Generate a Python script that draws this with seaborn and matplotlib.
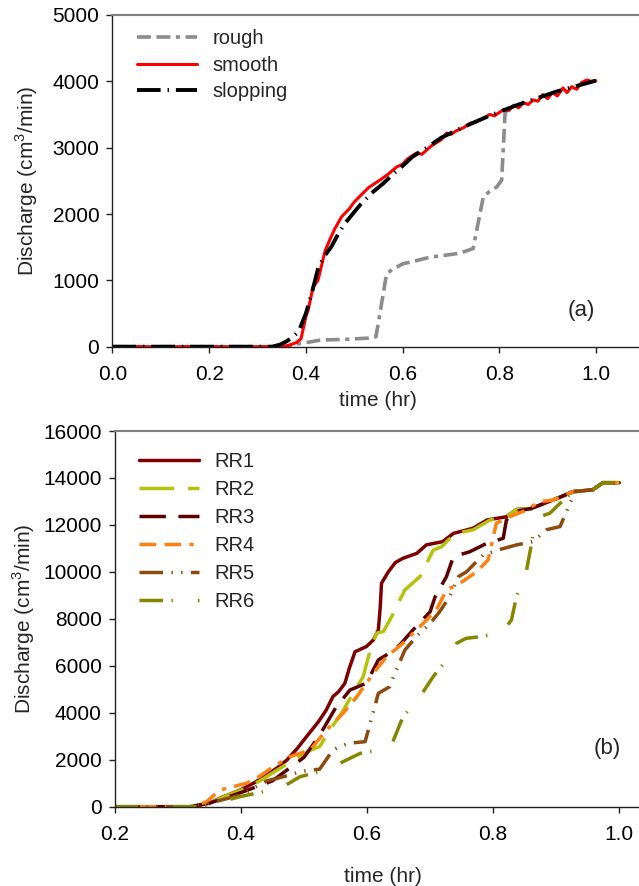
import numpy as np
import pandas as pd
import matplotlib
matplotlib.use("Agg")
import matplotlib.pyplot as plt
import seaborn as sns

# ---------------- Panel (a) data ----------------
rough_t = [0.0, 0.1, 0.2, 0.3, 0.35, 0.37, 0.38, 0.40, 0.43, 0.48, 0.53, 0.545, 0.567, 0.58,
           0.601, 0.63, 0.657, 0.69, 0.719, 0.746, 0.767, 0.78, 0.795, 0.805, 0.812, 0.82]
rough_q = [0, 0, 0, 0, 0, 20, 40, 60, 100, 110, 130, 150, 1100, 1170,
           1250, 1300, 1350, 1380, 1410, 1480, 2260, 2340, 2410, 2510, 3520, 3600]

smooth_t = [0.0, 0.1, 0.2, 0.3, 0.34, 0.36, 0.38, 0.39, 0.40, 0.405, 0.415, 0.425, 0.43, 0.44,
            0.45, 0.46, 0.474, 0.49, 0.50, 0.512, 0.53, 0.553, 0.57, 0.588, 0.60, 0.61, 0.629,
            0.64, 0.66, 0.68, 0.691, 0.70, 0.71, 0.726, 0.74, 0.75, 0.767, 0.78, 0.79, 0.808,
            0.82, 0.83, 0.84, 0.85, 0.86, 0.87, 0.88, 0.89, 0.90, 0.91, 0.92, 0.932, 0.94,
            0.95, 0.96, 0.97, 0.981, 0.99, 1.0]
smooth_q = [0, 0, 0, 0, 0, 10, 60, 120, 450, 560, 900, 1000, 1150, 1450,
            1620, 1780, 1960, 2080, 2180, 2270, 2400, 2510, 2600, 2710, 2750, 2830, 2920,
            2900, 3030, 3120, 3220, 3200, 3250, 3300, 3370, 3380, 3440, 3500, 3480, 3570,
            3560, 3640, 3600, 3680, 3650, 3720, 3700, 3800, 3740, 3830, 3780, 3900, 3830,
            3920, 3880, 3980, 4020, 4000, 4010]

slop_t = [0.0, 0.1, 0.2, 0.3, 0.33, 0.346, 0.36, 0.37, 0.381, 0.388, 0.40, 0.412, 0.426, 0.44,
          0.453, 0.467, 0.481, 0.50, 0.515, 0.54, 0.56, 0.58, 0.598, 0.62, 0.65, 0.68, 0.72,
          0.76, 0.80, 0.84, 0.88, 0.92, 0.96, 1.0]
slop_q = [0, 0, 0, 0, 0, 30, 80, 130, 200, 280, 500, 800, 1200, 1380,
          1510, 1700, 1860, 2030, 2160, 2340, 2460, 2600, 2710, 2860, 3000, 3150, 3290,
          3420, 3540, 3650, 3750, 3850, 3930, 4010]

# ---------------- Panel (b) data ----------------
rr_names = ["RR1", "RR2", "RR3", "RR4", "RR5", "RR6"]

rr1_t = [0.2, 0.32, 0.35, 0.37, 0.399, 0.42, 0.441, 0.46, 0.473, 0.49, 0.504, 0.523, 0.535,
         0.546, 0.555, 0.565, 0.572, 0.581, 0.599, 0.61, 0.618, 0.621, 0.623, 0.634, 0.645,
         0.657, 0.679, 0.694, 0.72, 0.737, 0.768, 0.79, 0.821, 0.837, 0.86, 0.895, 0.927,
         0.958, 0.974, 1.0]
rr1_q = [0, 0, 150, 400, 710, 1000, 1350, 1700, 1990, 2500, 2980, 3620, 4100,
         4690, 4900, 5260, 5900, 6600, 6820, 7100, 7530, 8500, 9515, 10010, 10400,
         10580, 10790, 11150, 11290, 11640, 11860, 12210, 12350, 12660, 12700, 13060, 13420,
         13500, 13800, 13800]

rr2_t = [0.2, 0.32, 0.35, 0.38, 0.40, 0.43, 0.46, 0.49, 0.51, 0.525, 0.541, 0.56, 0.578,
         0.594, 0.605, 0.615, 0.626, 0.639, 0.66, 0.684, 0.705, 0.718, 0.74, 0.768, 0.795,
         0.821, 0.837, 0.86, 0.895, 0.927, 0.958, 0.974, 1.0]
rr2_q = [0, 0, 150, 500, 700, 1100, 1600, 2100, 2400, 2560, 3270, 4000, 4830,
         5540, 6670, 7390, 7460, 8090, 9230, 9800, 10930, 11070, 11640, 11790, 12210,
         12350, 12660, 12700, 13060, 13420, 13500, 13800, 13800]

rr3_t = [0.2, 0.32, 0.35, 0.40, 0.45, 0.48, 0.50, 0.525, 0.55, 0.573, 0.599, 0.618, 0.639,
         0.652, 0.673, 0.70, 0.708, 0.726, 0.737, 0.763, 0.79, 0.816, 0.821, 0.838, 0.86,
         0.895, 0.927, 0.958, 0.974, 1.0]
rr3_q = [0, 0, 150, 600, 1100, 1700, 2100, 3050, 4200, 4970, 5260, 6250, 6600,
         6890, 7530, 8300, 8940, 9800, 10650, 10860, 11220, 11430, 12210, 12590, 12700,
         13060, 13420, 13500, 13800, 13800]

rr4_t = [0.2, 0.32, 0.345, 0.367, 0.38, 0.409, 0.43, 0.451, 0.478, 0.51, 0.536, 0.562, 0.584,
         0.61, 0.631, 0.657, 0.684, 0.71, 0.726, 0.747, 0.774, 0.792, 0.805, 0.826, 0.85,
         0.874, 0.895, 0.927, 0.958, 0.974, 1.0]
rr4_q = [0, 0, 200, 710, 800, 1000, 1300, 1700, 2130, 2420, 3270, 3980, 4690,
         5680, 6390, 6960, 7670, 8380, 9230, 9510, 10010, 10510, 12070, 12350, 12600,
         12990, 13060, 13420, 13500, 13800, 13800]

rr5_t = [0.2, 0.32, 0.35, 0.40, 0.441, 0.478, 0.494, 0.525, 0.546, 0.57, 0.597, 0.605, 0.618,
         0.636, 0.642, 0.66, 0.68, 0.70, 0.715, 0.731, 0.745, 0.758, 0.784, 0.81, 0.837,
         0.863, 0.885, 0.906, 0.922, 0.93, 0.958, 0.974, 1.0]
rr5_q = [0, 0, 150, 500, 1100, 1350, 1500, 1600, 2420, 2700, 2770, 3550, 4830,
         5110, 5540, 6670, 7300, 7800, 8300, 8940, 9800, 10010, 10720, 10950, 11150,
         11290, 11800, 11930, 12920, 13420, 13500, 13800, 13800]

rr6_t = [0.2, 0.33, 0.36, 0.399, 0.436, 0.467, 0.494, 0.515, 0.525, 0.557, 0.589, 0.62, 0.639,
         0.657, 0.684, 0.705, 0.726, 0.742, 0.757, 0.779, 0.813, 0.829, 0.837, 0.853, 0.863,
         0.874, 0.89, 0.906, 0.927, 0.958, 0.974, 1.0]
rr6_q = [0, 0, 150, 430, 640, 850, 1280, 1420, 1490, 1850, 2270, 2420, 2630,
         3830, 4690, 5540, 6250, 6960, 7170, 7240, 7390, 7950, 8940, 10080, 11500,
         12350, 12500, 12920, 13420, 13500, 13800, 13800]

# ---------------- style ----------------
sns.set_style("ticks")
plt.rcParams["font.family"] = ["Liberation Sans", "DejaVu Sans"]
plt.rcParams["lines.scale_dashes"] = False
plt.rcParams["mathtext.fontset"] = "custom"
plt.rcParams["mathtext.rm"] = "Liberation Sans"

FS = 15
LFS = 14.5

fig = plt.figure(figsize=(6.39, 8.86), dpi=100)
ax1 = fig.add_axes([0.176, 0.6087, 0.8323, 0.3744])
ax2 = fig.add_axes([0.1795, 0.0895, 0.8390, 0.4240])


def style_axes(ax):
    for s in ["left", "bottom"]:
        ax.spines[s].set_color("#222222")
        ax.spines[s].set_linewidth(1.0)
    ax.spines["top"].set_color("#808080")
    ax.spines["top"].set_linewidth(1.5)
    ax.spines["right"].set_visible(False)
    ax.tick_params(axis="both", direction="out", length=4.5, width=1.0,
                   labelsize=FS, colors="#222222", labelcolor="black", pad=5)
    ax.tick_params(axis="x", pad=9)
    ax.set_facecolor("white")


# ---------------- Panel (a) ----------------
sns.lineplot(x=rough_t, y=rough_q, ax=ax1, color="#8c8c8c", lw=2.6,
             linestyle=(0, (10, 4, 10, 4, 3, 4)), label="rough")
sns.lineplot(x=smooth_t, y=smooth_q, ax=ax1, color="#ff0000", lw=2.2,
             linestyle="-", label="smooth")
sns.lineplot(x=slop_t, y=slop_q, ax=ax1, color="#000000", lw=2.8,
             linestyle=(0, (17, 5, 1, 5)), label="slopping")

ax1.set_xlim(0, 1.1)
ax1.set_ylim(0, 5000)
ax1.set_xticks([0.0, 0.2, 0.4, 0.6, 0.8, 1.0])
ax1.set_xticklabels(["0.0", "0.2", "0.4", "0.6", "0.8", "1.0"])
ax1.set_yticks([0, 1000, 2000, 3000, 4000, 5000])
ax1.set_xlabel("time (hr)", fontsize=FS, labelpad=5)
ax1.set_ylabel(r"Discharge (cm$^{\mathregular{3}}$/min)", fontsize=FS, labelpad=9)
style_axes(ax1)
ax1.text(0.907, 0.11, "(a)", transform=ax1.transAxes, fontsize=16, ha="right", va="center")
ax1.legend(loc="upper left", bbox_to_anchor=(0.046, 0.958), frameon=False, fontsize=LFS,
           handlelength=3.0, handletextpad=0.75, labelspacing=0.38, borderpad=0,
           borderaxespad=0)

# ---------------- Panel (b) ----------------
rr_t = [rr1_t, rr2_t, rr3_t, rr4_t, rr5_t, rr6_t]
rr_q = [rr1_q, rr2_q, rr3_q, rr4_q, rr5_q, rr6_q]
rr_colors = ["#7f0000", "#b5c20c", "#5c0000", "#ff8010", "#8c4a0c", "#868600"]
rr_styles = ["-", (0, (25, 10)), (0, (19, 9)), (0, (12, 6, 12, 6, 3, 6)),
             (0, (17, 6, 1, 6, 1, 6)), (0, (17, 6, 1, 18))]

for name, t, q, c, ls in zip(rr_names, rr_t, rr_q, rr_colors, rr_styles):
    sns.lineplot(x=t, y=q, ax=ax2, color=c, lw=2.5, linestyle=ls, label=name)

ax2.set_xlim(0.2, 1.05)
ax2.set_ylim(0, 16000)
ax2.set_xticks([0.2, 0.4, 0.6, 0.8, 1.0])
ax2.set_xticklabels(["0.2", "0.4", "0.6", "0.8", "1.0"])
ax2.set_yticks(list(range(0, 16001, 2000)))
ax2.set_xlabel("time (hr)", fontsize=FS, labelpad=16)
ax2.set_ylabel(r"Discharge (cm$^{\mathregular{3}}$/min)", fontsize=FS, labelpad=4)
style_axes(ax2)
ax2.text(0.944, 0.155, "(b)", transform=ax2.transAxes, fontsize=16, ha="right", va="center")
ax2.legend(loc="upper left", bbox_to_anchor=(0.045, 0.945), frameon=False, fontsize=LFS,
           handlelength=3.0, handletextpad=0.75, labelspacing=0.45, borderpad=0,
           borderaxespad=0)

fig.savefig("out.png", dpi=100)
